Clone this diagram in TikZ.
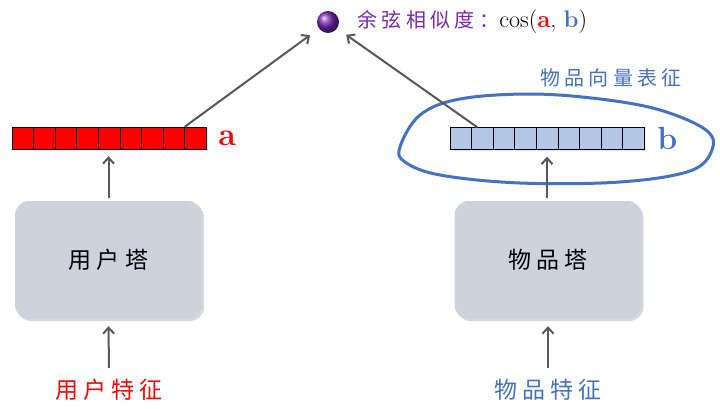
\documentclass[tikz,border=0pt]{standalone}
\usepackage{fontspec}
\newfontfamily\cjk[LetterSpace=22]{Noto Sans CJK SC}
\usetikzlibrary{arrows.meta,positioning,shadows}
\definecolor{vecred}{RGB}{255,0,0}
\definecolor{itemblue}{RGB}{68,114,196}
\definecolor{cellblue}{RGB}{180,199,231}
\definecolor{towergray}{RGB}{205,211,221}
\definecolor{simpurple}{RGB}{120,40,180}
\definecolor{arrowgray}{RGB}{89,89,89}
\tikzset{
  tower/.style={fill=towergray, rounded corners=14pt, minimum width=187pt,
    minimum height=118pt, drop shadow={opacity=0.3, shadow xshift=2pt, shadow yshift=-2pt},
    font=\fontsize{23}{23}\cjk},
  cell/.style={draw=black, minimum width=21.56pt, minimum height=22pt, inner sep=0pt,
    drop shadow={opacity=0.2, shadow xshift=1.5pt, shadow yshift=-1.5pt}},
  flow/.style={draw=arrowgray, line width=2pt, -{Straight Barb[length=6pt, width=11pt]}},
  feature/.style={font=\fontsize{23}{23}\cjk},
  caption/.style={font=\fontsize{20}{20}\cjk, inner sep=0pt},
  veclabel/.style={font=\fontsize{32}{32}\bfseries, inner sep=0pt},
}
\begin{document}
\begin{tikzpicture}[x=1pt, y=-1pt]
  \useasboundingbox (0,0) rectangle (720,409);
  % vectors
  \foreach \i in {1,...,9}{
    \node[cell, fill=vecred] (a\i) at ({12+21.56*(\i-0.5)},138) {};
    \node[cell, fill=cellblue] (b\i) at ({450+21.56*(\i-0.5)},138.5) {};
  }
  \node[veclabel, text=vecred, right=12pt of a9] (alabel) {a};
  \node[veclabel, text=itemblue, right=13pt of b9] (blabel) {b};
  % towers
  \node[tower] (utower) at (108.5,260) {用户塔};
  \node[tower] (itower) at (548,260) {物品塔};
  \node[feature, text=vecred] (ufeat) at (109,390) {用户特征};
  \node[feature, text=itemblue] (ifeat) at (548,390) {物品特征};
  % similarity
  \node[circle, ball color=simpurple, minimum size=22pt, inner sep=0pt] (sim) at (328,22) {};
  \node[caption, text=simpurple, right=18pt of sim] (simlabel)
    {余弦相似度：{\normalfont\fontsize{24}{24}\selectfont\color{black}cos(\textcolor{vecred}{\textbf{a}}, \textcolor{itemblue}{\textbf{b}})}};
  \node[caption, text=itemblue] (itemcap) at (611,78) {物品向量表征};
  \draw[itemblue, line width=3pt] plot[smooth cycle, tension=0.6] coordinates
    {(400,147) (420,115) (460,99) (530,94) (600,99) (660,110) (706,130) (712,150)
     (690,171) (620,182) (520,183) (440,175) (405,162)};
  % arrows
  \draw[flow, shorten <=3pt, shorten >=7pt] (utower.north) -- (utower.north |- a5.south);
  \draw[flow, shorten <=3pt, shorten >=7pt] (itower.north -| b5.south) -- (b5.south);
  \draw[flow, shorten <=8pt, shorten >=7pt] (ufeat.north) -- (utower.south);
  \draw[flow, shorten <=8pt, shorten >=7pt] (ifeat.north) -- (itower.south);
  \draw[flow, shorten >=11pt] (a8.north east) -- (sim);
  \draw[flow, shorten >=11pt] ([xshift=-5pt]b2.north) -- (sim);
\end{tikzpicture}
\end{document}
